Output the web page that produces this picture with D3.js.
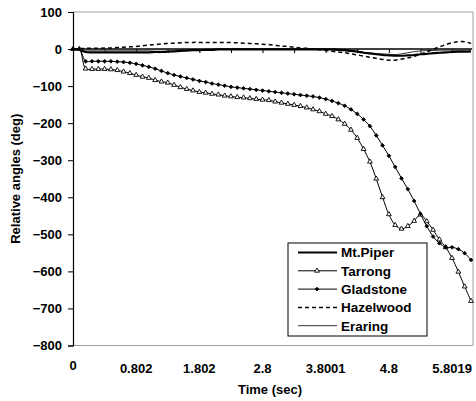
<!DOCTYPE html>
<html>
<head>
<meta charset="utf-8">
<script src="https://cdn.jsdelivr.net/npm/d3@7"></script>
<style>
  html, body { margin: 0; padding: 0; background: #fff; }
  svg { display: block; }
  text { font-family: "Liberation Sans", Arial, sans-serif; font-weight: bold; fill: #000; }
</style>
</head>
<body>
<div id="chart"></div>
<script>
// ---- data (sample index 0..63, category axis) ----
const timeLabels = ["0", "0.802", "1.802", "2.8", "3.8001", "4.8", "5.8019"];
const labelEvery = 10;   // a time label every 10 samples
const tickEvery = 5;     // a tick every 5 samples
const yTicks = [100, 0, -100, -200, -300, -400, -500, -600, -700, -800];

const mtPiper = [0, -2, -8, -9, -9, -9, -9, -9, -9, -9,
  -9, -9, -9, -8, -8, -7, -6, -5, -4, -3,
  -3, -2, -2, -1, -1, -1, -1, -1, -1, -1,
  -1, -1, -1, -1, -1, -1, -1, -1, -1, -1,
  -1, -1, -2, -3, -5, -7, -10, -12, -14, -16,
  -17, -18, -18, -17, -16, -14, -13, -11, -10, -9,
  -8, -7, -7, -6];
const tarrong = [0, 0, -53, -54, -54, -54, -55, -57, -61, -65,
  -70, -75, -78, -84, -88, -91, -97, -103, -108, -112,
  -116, -118, -121, -123, -126, -128, -130, -131, -133, -135,
  -137, -138, -142, -145, -148, -151, -154, -158, -163, -168,
  -175, -181, -190, -202, -218, -240, -270, -304, -350, -400,
  -446, -475, -485, -478, -464, -447, -465, -488, -514, -535,
  -564, -601, -641, -680];
const gladstone = [0, 0, -33, -33, -33, -33, -33, -34, -35, -37,
  -40, -44, -48, -53, -59, -65, -70, -74, -78, -82,
  -86, -89, -93, -96, -99, -102, -104, -106, -108, -110,
  -112, -114, -116, -118, -120, -122, -124, -126, -128, -131,
  -135, -140, -146, -153, -163, -175, -190, -208, -233, -260,
  -288, -318, -349, -378, -410, -445, -478, -506, -524, -535,
  -535, -540, -551, -569];
const hazelwood = [0, 1, 2, 2, 2, 3, 3, 4, 5, 6,
  7, 9, 11, 12, 14, 15, 16, 17, 17.5, 18,
  18, 18, 18, 18, 18, 17.5, 17, 16, 15, 14,
  13, 12, 10, 8, 7, 5, 3, 2, 0, -2,
  -4, -6, -8, -10, -13, -16, -19, -22, -25, -28,
  -30, -30, -27, -24, -20, -14, -8, -1, 6, 12,
  17, 20, 20, 15];
const eraring = [0, -1, -3, -3, -3, -3, -3, -3, -3, -3,
  -3, -3, -3, -2, -2, -2, -2, -2, -1, -1,
  -1, -1, -1, 0, 0, 0, 0, 0, 0, 0,
  0, 0, 0, 0, 0, 0, 0, 0, 0, 0,
  -1, -2, -3, -4, -6, -7, -9, -10, -12, -13,
  -14, -15, -13, -10, -7, -5, -4, -4, -3, -3,
  -3, -3, -3, -3];

const seriesNames = ["Mt.Piper", "Tarrong", "Gladstone", "Hazelwood", "Eraring"];
const seriesValues = [mtPiper, tarrong, gladstone, hazelwood, eraring];

// ---- layout ----
const W = 476, H = 401;
const pLeft = 73, pRight = 472, pTop = 12, pBottom = 345.5;

const svg = d3.select("#chart").append("svg").attr("width", W).attr("height", H);

const x = d3.scaleLinear().domain([0, 63]).range([pLeft, 471]);
const y = d3.scaleLinear().domain([-800, 100]).range([pBottom, pTop]);

// plot frame (grey)
svg.append("path")
  .attr("d", `M${pLeft},${pTop}H${pRight + 1}V${pBottom}H${pLeft}`)
  .attr("fill", "none").attr("stroke", "#a0a0a0").attr("stroke-width", 1);

// y axis
const yAxis = d3.axisLeft(y).tickValues(yTicks).tickSize(5).tickPadding(6).tickFormat(d3.format("d"));
const gy = svg.append("g").attr("transform", `translate(${pLeft},0)`).call(yAxis);
gy.select(".domain").attr("stroke", "#000").attr("stroke-width", 1.2);
gy.selectAll(".tick line").attr("stroke", "#000");
gy.selectAll("text").style("font-size", "13px").attr("font-family", null);

// x axis along value 0
const nSamples = tarrong.length;
const tickIdx = d3.range(0, nSamples, tickEvery);
const xAxis = d3.axisBottom(x).tickValues(tickIdx).tickSize(4).tickFormat("");
const gx = svg.append("g").attr("transform", `translate(0,${y(0)})`).call(xAxis);
gx.select(".domain").attr("d", `M${pLeft},0H${pRight}`).attr("stroke", "#000").attr("stroke-width", 1.5);
gx.selectAll(".tick line").attr("stroke", "#000");

// x tick labels at bottom
svg.append("g").selectAll("text")
  .data(timeLabels)
  .join("text")
  .attr("x", (d, i) => x(i * labelEvery))
  .attr("y", (d, i) => i === 0 ? 370 : 373)
  .attr("text-anchor", "middle")
  .style("font-size", "13px")
  .text(d => d);

// axis titles
svg.append("text")
  .attr("x", 270).attr("y", 394)
  .attr("text-anchor", "middle")
  .style("font-size", "13px")
  .text("Time (sec)");
svg.append("text")
  .attr("transform", `translate(20,${(pTop + pBottom) / 2}) rotate(-90)`)
  .attr("text-anchor", "middle")
  .style("font-size", "13px")
  .text("Relative angles (deg)");

// series
const line = d3.line().x((d, i) => x(i)).y(d => y(d)).curve(d3.curveCatmullRom.alpha(0.5));
const styles = [
  { width: 2.2, dash: null, color: "#000" },
  { width: 1, dash: null, color: "#000" },
  { width: 1, dash: null, color: "#000" },
  { width: 1.5, dash: "4,3", color: "#000" },
  { width: 1, dash: null, color: "#333" }
];
const drawOrder = [4, 3, 0, 1, 2];
drawOrder.forEach(k => {
  svg.append("path")
    .attr("d", line(seriesValues[k]))
    .attr("fill", "none")
    .attr("stroke", styles[k].color)
    .attr("stroke-width", styles[k].width)
    .attr("stroke-dasharray", styles[k].dash);
});

const tri = d3.symbol().type(d3.symbolTriangle).size(10);
const dia = d3.symbol().type(d3.symbolSquare).size(7);

svg.append("g").selectAll("path")
  .data(tarrong)
  .join("path")
  .attr("transform", (d, i) => `translate(${x(i)},${y(d)})`)
  .attr("d", tri)
  .attr("fill", "#fff").attr("stroke", "#000").attr("stroke-width", 0.9);

svg.append("g").selectAll("path")
  .data(gladstone)
  .join("path")
  .attr("transform", (d, i) => `translate(${x(i)},${y(d)}) rotate(45)`)
  .attr("d", dia)
  .attr("fill", "#000").attr("stroke", "#000").attr("stroke-width", 0.8);

// legend
const lg = svg.append("g");
lg.append("rect").attr("x", 288).attr("y", 243).attr("width", 139).attr("height", 93)
  .attr("fill", "#fff").attr("stroke", "#000").attr("stroke-width", 1);
seriesNames.forEach((name, k) => {
  const cy = 252.5 + k * 18.3;
  lg.append("line").attr("x1", 298).attr("x2", 337).attr("y1", cy).attr("y2", cy)
    .attr("stroke", styles[k].color).attr("stroke-width", styles[k].width)
    .attr("stroke-dasharray", styles[k].dash);
  if (k === 1) lg.append("path").attr("transform", `translate(317,${cy})`).attr("d", tri)
    .attr("fill", "#fff").attr("stroke", "#000").attr("stroke-width", 0.9);
  if (k === 2) lg.append("path").attr("transform", `translate(317,${cy}) rotate(45)`).attr("d", dia)
    .attr("fill", "#000").attr("stroke", "#000").attr("stroke-width", 0.8);
  lg.append("text").attr("x", 341).attr("y", cy + 4.8)
    .style("font-size", "13.5px").text(name);
});
</script>
</body>
</html>
